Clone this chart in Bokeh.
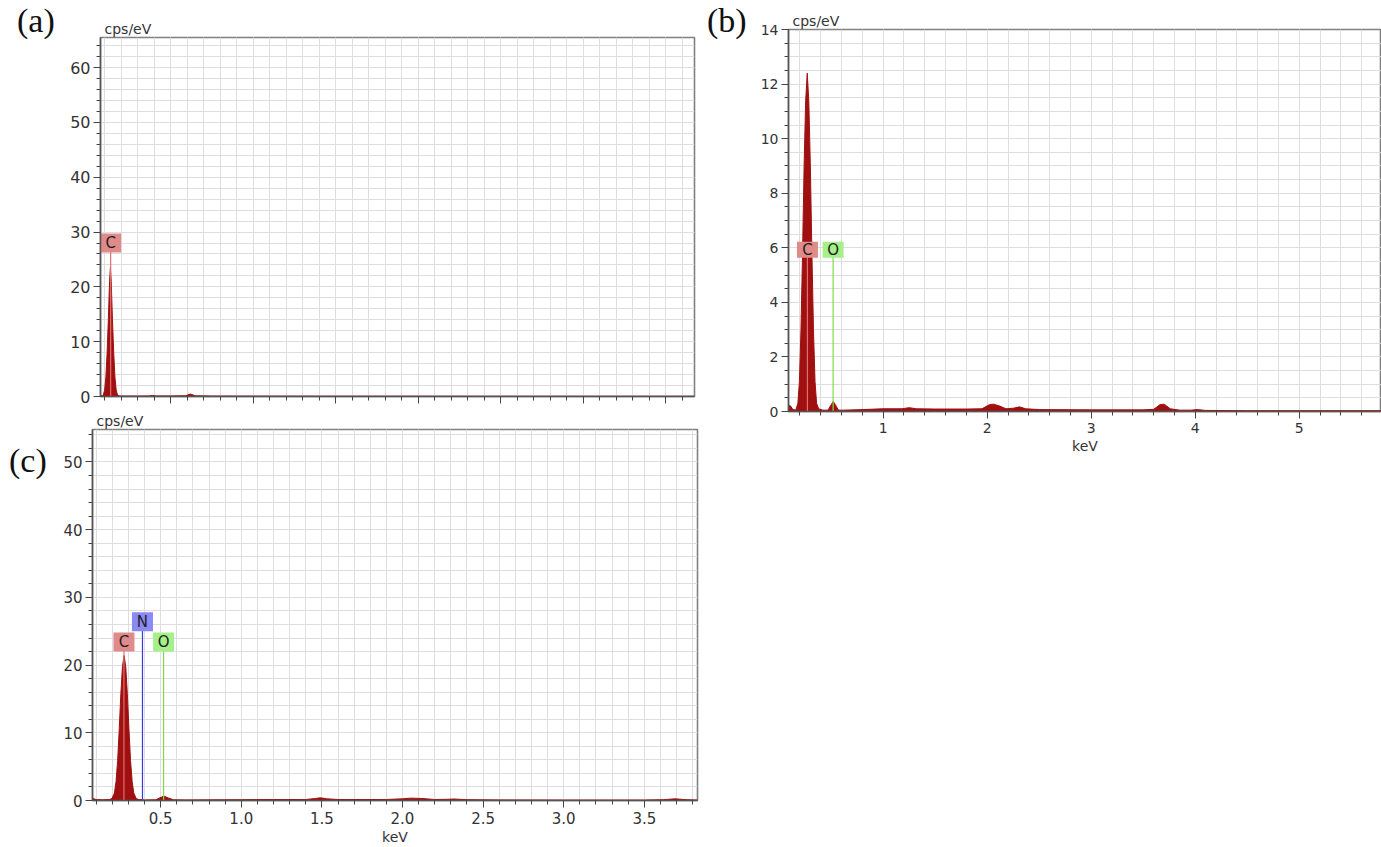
from bokeh.plotting import figure
from bokeh.models import (Range1d, SingleIntervalTicker, Title, Div, NumeralTickFormatter,
                          CustomLabelingPolicy)
from bokeh.layouts import row, column
from bokeh.embed import file_html
from bokeh.resources import INLINE
from bokeh.core.properties import value

# ---------------- data ----------------
# (a)
a_kev = [0.15, 0.17, 0.185, 0.20, 0.215, 0.23, 0.245, 0.26, 0.27, 0.28, 0.295, 0.31,
         0.325, 0.34, 0.355, 0.38, 0.45, 0.60, 0.74, 0.78, 0.82, 1.0, 1.18, 1.24, 1.30,
         1.5, 2.0, 3.0, 4.0, 5.0, 6.0, 7.0, 7.35]
a_cps = [0.1, 0.15, 0.3, 1.2, 3.5, 8.0, 14.0, 21.0, 23.5, 21.0, 14.0, 8.0,
         3.5, 1.2, 0.3, 0.1, 0.08, 0.08, 0.1, 0.2, 0.1, 0.1, 0.12, 0.45, 0.12,
         0.08, 0.06, 0.05, 0.05, 0.04, 0.04, 0.04, 0.04]
a_elements = ["C"]
a_elem_kev = [0.273]
a_elem_cps = [28.0]

# (b)
b_kev = [0.09, 0.11, 0.13, 0.16, 0.18, 0.195, 0.21, 0.225, 0.24, 0.255, 0.27, 0.285,
         0.30, 0.315, 0.33, 0.345, 0.36, 0.38, 0.42, 0.47, 0.50, 0.52, 0.54, 0.57,
         0.62, 0.8, 1.0, 1.18, 1.25, 1.32, 1.5, 1.8, 1.95, 2.02, 2.06, 2.12, 2.18,
         2.25, 2.31, 2.37, 2.5, 3.0, 3.5, 3.6, 3.66, 3.70, 3.76, 3.85, 3.96, 4.02,
         4.1, 4.5, 5.0, 5.8]
b_cps = [0.25, 0.2, 0.08, 0.05, 0.3, 1.1, 3.0, 5.8, 9.0, 11.4, 12.4, 11.4,
         9.0, 5.8, 3.0, 1.1, 0.3, 0.1, 0.05, 0.05, 0.25, 0.37, 0.25, 0.05,
         0.05, 0.07, 0.1, 0.1, 0.14, 0.1, 0.09, 0.09, 0.1, 0.25, 0.27, 0.2, 0.1,
         0.12, 0.17, 0.1, 0.07, 0.06, 0.06, 0.08, 0.25, 0.27, 0.1, 0.05, 0.05, 0.07,
         0.04, 0.03, 0.03, 0.03]
b_elements = ["C", "O"]
b_elem_kev = [0.272, 0.519]
b_elem_cps = [5.93, 5.93]

# (c)
c_kev = [0.077, 0.10, 0.14, 0.183, 0.198, 0.213, 0.223, 0.233, 0.243, 0.253, 0.263,
         0.273, 0.283, 0.293, 0.303, 0.313, 0.323, 0.333, 0.348, 0.363, 0.40, 0.47,
         0.49, 0.52, 0.55, 0.58, 0.65, 1.0, 1.2, 1.4, 1.46, 1.49, 1.53, 1.6, 1.9,
         2.0, 2.05, 2.12, 2.2, 2.28, 2.32, 2.4, 2.6, 3.0, 3.5, 3.62, 3.69, 3.76, 3.83]
c_cps = [0.3, 0.15, 0.1, 0.15, 0.3, 1.1, 2.8, 5.9, 10.6, 15.8, 19.8,
         21.4, 19.8, 15.8, 10.6, 5.9, 2.8, 1.1, 0.3, 0.15, 0.08, 0.1,
         0.35, 0.65, 0.35, 0.1, 0.08, 0.12, 0.15, 0.15, 0.3, 0.4, 0.25, 0.15, 0.15,
         0.25, 0.35, 0.3, 0.15, 0.18, 0.22, 0.12, 0.08, 0.06, 0.06, 0.12, 0.25, 0.12, 0.06]
c_elements = ["C", "N", "O"]
c_elem_kev = [0.272, 0.387, 0.518]
c_elem_cps = [23.4, 26.4, 23.4]

panel_letters = ["(a)", "(b)", "(c)"]

# ---------------- styles ----------------
BOX_COLORS = {"C": "#e08a8a", "N": "#8a8af5", "O": "#a6f08a"}
LINE_COLORS = {"C": "#e07070", "N": "#3a3ad8", "O": "#7de040"}
SPEC_COLOR = "#a01010"
GRID = "#dedede"
TXT = "#333333"
FONT = "DejaVu Sans"


def panel(kev, cps, elems, ekev, ecps, xr, yr, xint, yint, yminor,
          fw, fh, bl, br, bt, bb, tick_fs, show_x_labels=True, xfmt=None, box_h=19):
    p = figure(frame_width=fw, frame_height=fh, min_border_left=bl, min_border_right=br,
               min_border_top=bt, min_border_bottom=bb, toolbar_location=None,
               output_backend="svg", x_range=Range1d(*xr), y_range=Range1d(*yr))
    p.background_fill_color = "white"
    p.border_fill_color = "white"
    p.outline_line_color = "#808080"
    p.outline_line_width = 1.6

    p.xaxis.ticker = SingleIntervalTicker(interval=xint, num_minor_ticks=5)
    p.yaxis.ticker = SingleIntervalTicker(interval=yint, num_minor_ticks=yminor)
    for ax in (p.xaxis, p.yaxis):
        ax.axis_line_color = "#555555"
        ax.axis_line_width = 1.5
        ax.major_tick_line_color = "#444444"
        ax.minor_tick_line_color = "#444444"
        ax.major_tick_out = 7
        ax.major_tick_in = 0
        ax.minor_tick_out = 4
        ax.minor_tick_in = 0
        ax.major_label_text_font = FONT
        ax.major_label_text_font_size = tick_fs
        ax.major_label_text_color = TXT
        ax.major_label_standoff = 3
    if not show_x_labels:
        # ticks only, no tick labels on this axis
        p.xaxis.major_label_policy = CustomLabelingPolicy(code="return new Set()")
        p.xaxis.major_label_text_font_size = "1px"
        p.xaxis.major_label_standoff = 0
    else:
        p.xaxis.major_label_standoff = 4
        p.xaxis.axis_label = "keV"
        p.xaxis.axis_label_text_font = FONT
        p.xaxis.axis_label_text_font_size = "14px"
        p.xaxis.axis_label_text_font_style = "normal"
        p.xaxis.axis_label_text_color = TXT
        p.xaxis.axis_label_standoff = 2
    if xfmt is not None:
        p.xaxis.formatter = NumeralTickFormatter(format=xfmt)

    for g in (p.xgrid, p.ygrid):
        g.grid_line_color = GRID
        g.minor_grid_line_color = GRID
        g.grid_line_width = 1

    p.varea(x=kev, y1=[0] * len(kev), y2=cps, fill_color=SPEC_COLOR)
    p.line(x=kev, y=cps, line_color=SPEC_COLOR, line_width=1)

    p.segment(x0=ekev, y0=[0] * len(ekev), x1=ekev, y1=ecps,
              line_color=[LINE_COLORS[e] for e in elems], line_width=1.2)
    p.rect(x=ekev, y=ecps, width=21, height=box_h, width_units="screen", height_units="screen",
           fill_color=[BOX_COLORS[e] for e in elems], line_color=None)
    p.text(x=ekev, y=ecps, text=elems, text_align="center", text_baseline="middle",
           text_font=value(FONT), text_font_size="15px", text_color="#222222")

    p.add_layout(Title(text="cps/eV", align="left", offset=4, standoff=1,
                       text_font=FONT, text_font_size="14px", text_font_style="normal",
                       text_color=TXT), "above")
    return p


def letter_div(txt, w, h, ml, mt):
    html = ('<div style="margin-left:%dpx;margin-top:%dpx;font-family:\'Liberation Serif\';'
            'font-size:34px;line-height:36px;color:#111111;">%s</div>' % (ml, mt, txt))
    return Div(text=html, width=w, height=h, margin=0)


pa = panel(a_kev, a_cps, a_elements, a_elem_kev, a_elem_cps,
           (0.15, 7.35), (0, 65.5), 1, 10, 5,
           594, 359, 40, 6, 37, 12, "16px", show_x_labels=False)
pc = panel(c_kev, c_cps, c_elements, c_elem_kev, c_elem_cps,
           (0.077, 3.83), (0, 54.8), 0.5, 10, 5,
           605, 371, 37, 3, 21, 47, "15px", xfmt="0.0")
pb = panel(b_kev, b_cps, b_elements, b_elem_kev, b_elem_cps,
           (0.09, 5.79), (0, 14), 1, 2, 4,
           593, 382, 38, 0, 29, 49, "14px", box_h=16)

da = letter_div(panel_letters[0], 60, 408, 17, 3)
db = letter_div(panel_letters[1], 50, 460, 7, 3)
dc = letter_div(panel_letters[2], 55, 439, 9, 35)

layout = row(column(row(da, pa), row(dc, pc)), row(db, pb))
open("out.html", "w").write(file_html(layout, INLINE))
